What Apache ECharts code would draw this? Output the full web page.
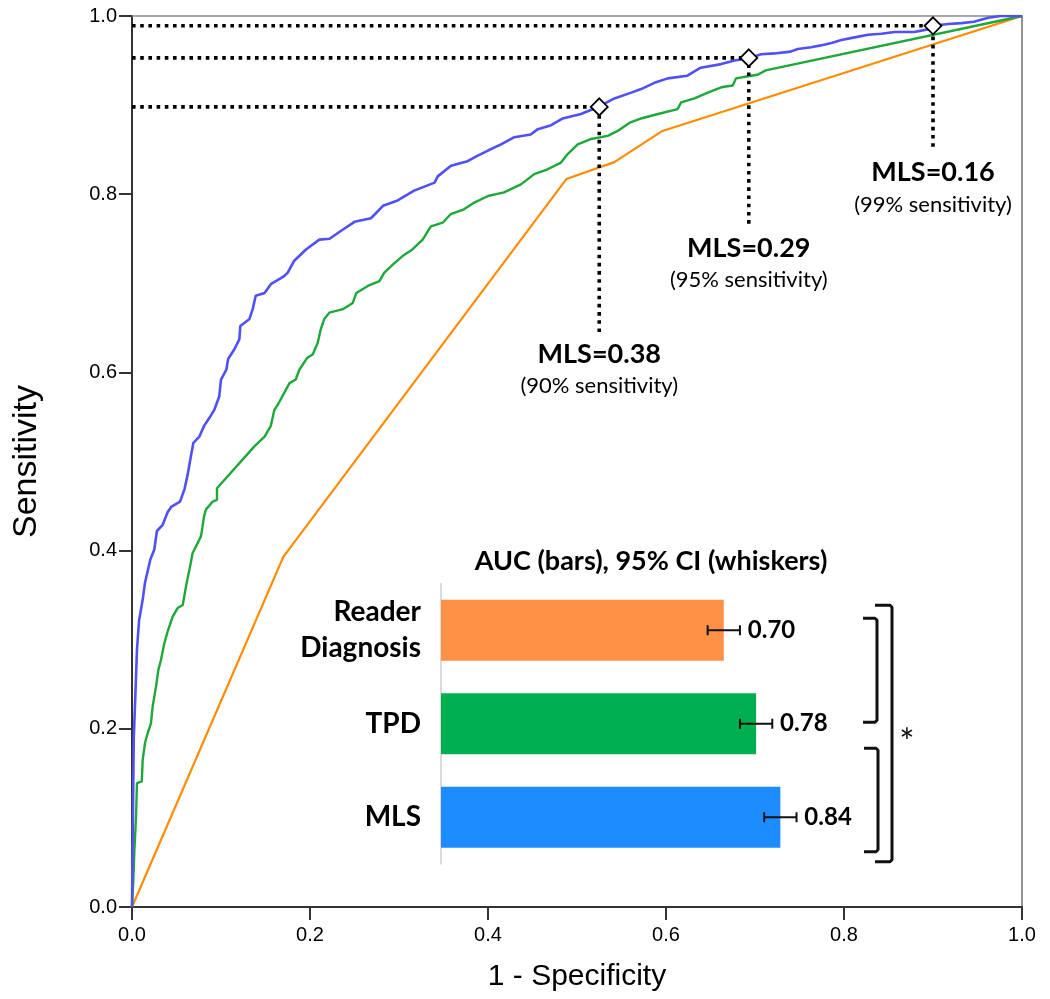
<!DOCTYPE html>
<html><head><meta charset="utf-8">
<script src="https://cdn.jsdelivr.net/npm/echarts/dist/echarts.min.js"></script>
<style>html,body{margin:0;padding:0;background:#fff}#c{width:1050px;height:999px}</style>
</head><body><div id="c"></div>
<script>
// ---------- DATA ----------
const axisTicks = [0, 0.2, 0.4, 0.6, 0.8, 1.0];

// ROC curves: [1 - specificity, sensitivity]
const mlsRoc = [[0,0],[0.001,0.10],[0.002,0.19],[0.004,0.244],[0.0056,0.289],[0.008,0.322],[0.012,0.345],[0.0146,0.364],[0.0206,0.39],[0.025,0.401],[0.028,0.422],[0.0345,0.429],[0.04,0.443],[0.044,0.449],[0.054,0.455],[0.059,0.469],[0.0625,0.485],[0.066,0.505],[0.069,0.521],[0.0757,0.528],[0.081,0.54],[0.087,0.549],[0.0925,0.558],[0.098,0.573],[0.1,0.592],[0.106,0.603],[0.108,0.615],[0.115,0.626],[0.1206,0.637],[0.1217,0.652],[0.132,0.66],[0.1356,0.671],[0.139,0.686],[0.149,0.689],[0.156,0.699],[0.171,0.708],[0.175,0.712],[0.182,0.725],[0.1955,0.738],[0.2105,0.749],[0.222,0.75],[0.235,0.759],[0.25,0.769],[0.2685,0.773],[0.282,0.787],[0.2985,0.793],[0.317,0.804],[0.34,0.813],[0.3435,0.82],[0.3584,0.832],[0.377,0.837],[0.388,0.843],[0.4,0.849],[0.4146,0.856],[0.4296,0.864],[0.448,0.867],[0.456,0.873],[0.471,0.8775],[0.484,0.885],[0.5045,0.89],[0.525,0.8985],[0.542,0.9075],[0.561,0.914],[0.572,0.918],[0.587,0.925],[0.602,0.93],[0.624,0.933],[0.639,0.942],[0.662,0.946],[0.677,0.95],[0.6936,0.9525],[0.7067,0.957],[0.7217,0.958],[0.74,0.96],[0.748,0.963],[0.763,0.965],[0.774,0.967],[0.787,0.97],[0.797,0.973],[0.812,0.976],[0.827,0.979],[0.842,0.98],[0.857,0.982],[0.879,0.982],[0.894,0.985],[0.9,0.989],[0.917,0.991],[0.932,0.992],[0.946,0.9935],[0.962,0.998],[0.976,1.0],[1,1]];

const tpdRoc = [[0,0],[0.0015,0.03],[0.0026,0.061],[0.0045,0.101],[0.0056,0.139],[0.011,0.141],[0.012,0.165],[0.0146,0.184],[0.0176,0.195],[0.0213,0.206],[0.0232,0.225],[0.027,0.2475],[0.0296,0.266],[0.0326,0.2775],[0.0363,0.296],[0.04,0.309],[0.0457,0.326],[0.0513,0.3355],[0.057,0.339],[0.0607,0.36],[0.066,0.386],[0.068,0.397],[0.0775,0.416],[0.081,0.4385],[0.083,0.446],[0.0907,0.455],[0.0955,0.457],[0.0955,0.47],[0.1375,0.517],[0.149,0.528],[0.156,0.54],[0.16,0.558],[0.164,0.564],[0.171,0.577],[0.177,0.588],[0.184,0.592],[0.188,0.603],[0.197,0.6165],[0.203,0.62],[0.2086,0.633],[0.212,0.648],[0.216,0.66],[0.2217,0.667],[0.237,0.671],[0.248,0.678],[0.252,0.689],[0.265,0.697],[0.278,0.7025],[0.2835,0.712],[0.293,0.721],[0.304,0.7306],[0.315,0.738],[0.3266,0.749],[0.334,0.761],[0.336,0.764],[0.349,0.768],[0.358,0.7775],[0.373,0.783],[0.3846,0.7906],[0.4,0.798],[0.418,0.802],[0.437,0.811],[0.452,0.8225],[0.467,0.828],[0.482,0.8355],[0.4895,0.845],[0.5008,0.856],[0.516,0.862],[0.5345,0.8655],[0.5457,0.871],[0.5587,0.88],[0.572,0.885],[0.591,0.89],[0.613,0.8955],[0.617,0.903],[0.632,0.9075],[0.647,0.914],[0.662,0.92],[0.675,0.922],[0.6787,0.93],[0.6955,0.933],[0.703,0.934],[0.712,0.939],[1,1]];

const readerRoc = [[0,0],[0.17,0.393],[0.488,0.817],[0.542,0.836],[0.596,0.871],[1,1]];

// MLS cut-off operating points
const cutoffFpr = [0.525, 0.693, 0.900];
const cutoffSens = [0.898, 0.953, 0.989];
const cutoffDropTo = [0.645, 0.764, 0.849];
const cutoffNames = ['MLS=0.38', 'MLS=0.29', 'MLS=0.16'];
const cutoffNotes = ['(90% sensitivity)', '(95% sensitivity)', '(99% sensitivity)'];

// Inset: AUC bars with 95% CI
const aucCategories = ['Reader\nDiagnosis', 'TPD', 'MLS'];
const aucValues = [0.70, 0.78, 0.84];
const aucLower = [0.66, 0.74, 0.80];
const aucUpper = [0.74, 0.82, 0.88];
const comparisons = [[0, 1], [1, 2], [0, 2]];

// ---------- STYLE ----------
const C_MLS = '#5050f5', C_TPD = '#1fa83a', C_READER = '#ff8c00';
const BAR_COLORS = ['#ff9147', '#00b050', '#1c8cff'];
const AX = 'Liberation Sans, Arial, sans-serif';
const CAL = 'Lato, sans-serif';
// bracket layout (pixel offsets from category centres / right end of inset axis)
const bracketLayout = [
  {top: -12, bottom: -1.5, x: 32, tab: 18, star: false},
  {top: 24.5, bottom: 34.5, x: 33, tab: 19, star: false},
  {top: -25, bottom: 44.5, x: 47, tab: 30, star: true}
];

const chart = echarts.init(document.getElementById('c'), null, {renderer: 'canvas'});

const cutSeries = cutoffFpr.map((x, i) => ({
  type: 'line', xAxisIndex: 0, yAxisIndex: 0, showSymbol: false, silent: true, z: 4,
  data: [[0, cutoffSens[i]], [x, cutoffSens[i]], [x, cutoffDropTo[i]]],
  lineStyle: {color: '#000', width: 3.6, type: [3.6, 4.6], cap: 'butt'}
}));

const tickFmt = v => { const i = axisTicks.findIndex(t => Math.abs(t - v) < 1e-6); return i >= 0 ? axisTicks[i].toFixed(1) : ''; };

const option = {
  animation: false,
  backgroundColor: '#fff',
  grid: [
    {left: 132, top: 16, width: 890, height: 891, outerBoundsMode: 'none', containLabel: false},
    {left: 441, top: 583.5, width: 404, height: 280.5, outerBoundsMode: 'none', containLabel: false}
  ],
  xAxis: [
    {type: 'value', gridIndex: 0, min: 0, max: 1, interval: 0.2,
     name: '1 - Specificity', nameLocation: 'middle', nameGap: 55,
     nameTextStyle: {fontFamily: AX, fontSize: 30, color: '#000'},
     axisLine: {show: true, onZero: false, lineStyle: {color: '#333', width: 2}},
     axisTick: {show: true, inside: false, length: 13, lineStyle: {color: '#333', width: 2}},
     axisLabel: {margin: 18, fontFamily: AX, fontSize: 20, color: '#000', formatter: tickFmt},
     splitLine: {show: false}},
    {type: 'value', gridIndex: 0, position: 'top', min: 0, max: 1,
     axisLine: {show: true, onZero: false, lineStyle: {color: '#8c8c8c', width: 1.5}},
     axisTick: {show: false}, axisLabel: {show: false}, splitLine: {show: false}},
    {type: 'value', gridIndex: 1, min: 0, max: 1, show: false, splitLine: {show: false}}
  ],
  yAxis: [
    {type: 'value', gridIndex: 0, min: 0, max: 1, interval: 0.2,
     name: 'Sensitivity', nameLocation: 'middle', nameGap: 88,
     nameTextStyle: {fontFamily: AX, fontSize: 34, color: '#000'},
     axisLine: {show: true, onZero: false, lineStyle: {color: '#333', width: 2}},
     axisTick: {show: true, inside: false, length: 13, lineStyle: {color: '#333', width: 2}},
     axisLabel: {margin: 15, fontFamily: AX, fontSize: 20, color: '#000', formatter: tickFmt},
     splitLine: {show: false}},
    {type: 'value', gridIndex: 0, position: 'right', min: 0, max: 1,
     axisLine: {show: true, onZero: false, lineStyle: {color: '#6e6e6e', width: 1.5}},
     axisTick: {show: false}, axisLabel: {show: false}, splitLine: {show: false}},
    {type: 'category', gridIndex: 1, data: aucCategories, inverse: true,
     axisLine: {show: true, lineStyle: {color: '#cfcfcf', width: 1.5}},
     axisTick: {show: false},
     axisLabel: {margin: 20, fontFamily: CAL, fontWeight: 'bold', fontSize: 28, lineHeight: 36, color: '#000', align: 'right'}}
  ],
  graphic: [
    {type: 'text', x: 651, y: 561, style: {text: 'AUC (bars), 95% CI (whiskers)', fontFamily: CAL, fontWeight: 'bold', fontSize: 27, fill: '#000', textAlign: 'center', textVerticalAlign: 'middle'}}
  ],
  series: [
    {type: 'line', name: 'Reader Diagnosis', xAxisIndex: 0, yAxisIndex: 0, data: readerRoc, showSymbol: false, z: 2,
     lineStyle: {color: C_READER, width: 2.2}},
    {type: 'line', name: 'TPD', xAxisIndex: 0, yAxisIndex: 0, data: tpdRoc, showSymbol: false, z: 2,
     lineStyle: {color: C_TPD, width: 2.4}},
    {type: 'line', name: 'MLS', xAxisIndex: 0, yAxisIndex: 0, data: mlsRoc, showSymbol: false, z: 3,
     lineStyle: {color: C_MLS, width: 2.6}},
    ...cutSeries,
    {type: 'scatter', xAxisIndex: 0, yAxisIndex: 0, z: 6, symbol: 'diamond', symbolSize: 17,
     data: cutoffFpr.map((x, i) => [x, cutoffSens[i]]),
     itemStyle: {color: '#fff', borderColor: '#000', borderWidth: 1.8, opacity: 1}},
    {type: 'scatter', xAxisIndex: 0, yAxisIndex: 0, z: 6, symbol: 'circle', symbolSize: 0.01, silent: true,
     data: cutoffFpr.map((x, i) => [x, cutoffDropTo[i]]),
     itemStyle: {color: '#000', opacity: 1},
     label: {show: true, position: 'bottom', distance: 7, color: '#000', opacity: 1,
       formatter: p => '{b|' + cutoffNames[p.dataIndex] + '}\n{s|' + cutoffNotes[p.dataIndex] + '}',
       rich: {
         b: {fontFamily: CAL, fontWeight: 'bold', fontSize: 27, lineHeight: 30, color: '#000', align: 'center'},
         s: {fontFamily: CAL, fontSize: 22, lineHeight: 34, color: '#000', align: 'center'}
       }}},
    {type: 'bar', xAxisIndex: 2, yAxisIndex: 2, barWidth: 61, z: 3,
     data: aucValues.map((v, i) => ({value: v, itemStyle: {color: BAR_COLORS[i]}})),
     label: {show: true, position: 'right', distance: 24, fontFamily: CAL, fontWeight: 'bold', fontSize: 24, color: '#000',
       formatter: p => aucValues[p.dataIndex].toFixed(2)}},
    {type: 'custom', xAxisIndex: 2, yAxisIndex: 2, z: 5, silent: true,
     encode: {x: [1, 2], y: 0},
     data: aucValues.map((v, i) => [i, aucLower[i], aucUpper[i]]),
     renderItem: (params, api) => {
       const a = api.coord([api.value(1), api.value(0)]);
       const b = api.coord([api.value(2), api.value(0)]);
       const h = 5, st = {stroke: '#111', lineWidth: 2};
       return {type: 'group', children: [
         {type: 'line', shape: {x1: a[0], y1: a[1], x2: b[0], y2: b[1]}, style: st},
         {type: 'line', shape: {x1: a[0], y1: a[1] - h, x2: a[0], y2: a[1] + h}, style: st},
         {type: 'line', shape: {x1: b[0], y1: b[1] - h, x2: b[0], y2: b[1] + h}, style: st}
       ]};
     }},
    {type: 'custom', xAxisIndex: 2, yAxisIndex: 2, z: 5, silent: true,
     encode: {y: [0, 1]},
     data: comparisons.map(c => [c[0], c[1]]),
     renderItem: (params, api) => {
       const L = bracketLayout[params.dataIndex];
       const top = api.coord([1, api.value(0)]);
       const bot = api.coord([1, api.value(1)]);
       const xv = top[0] + L.x, xt = top[0] + L.tab;
       const y1 = top[1] + L.top, y2 = bot[1] + L.bottom;
       const children = [{type: 'polyline', shape: {points: [[xt, y1], [xv - 2, y1], [xv, y1 + 2], [xv, y2 - 2], [xv - 2, y2], [xt, y2]]},
         style: {stroke: '#111', lineWidth: 3, fill: null, lineJoin: 'round'}}];
       if (L.star) children.push({type: 'text', x: xv + 15, y: (y1 + y2) / 2 + 10,
         style: {text: '*', fontFamily: CAL, fontSize: 36, fill: '#111', textAlign: 'center', textVerticalAlign: 'middle'}});
       return {type: 'group', children};
     }}
  ]
};
chart.setOption(option);
</script>
</body></html>
